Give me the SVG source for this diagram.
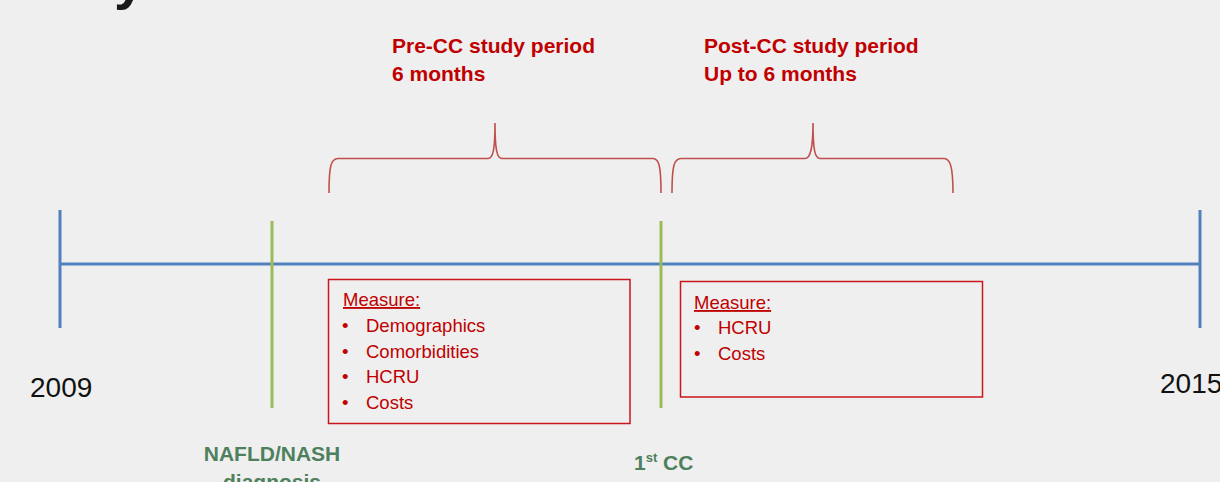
<svg xmlns="http://www.w3.org/2000/svg" width="1220" height="482" viewBox="0 0 1220 482">
<style>
.bg{fill:#EFEFEF}
.axis{stroke:#4F81BD;stroke-width:3;fill:none}
.mark{stroke:#9BBB59;stroke-width:3;fill:none}
.brace{stroke:#C0504D;stroke-width:1.6;fill:none}
.box{stroke:#C8161D;stroke-width:1.5;fill:none}
.head{font-family:"Liberation Sans",Arial,sans-serif;font-weight:bold;font-size:21px;fill:#C00000}
.item{font-family:"Liberation Sans",Arial,sans-serif;font-size:18.5px;fill:#C00000}
.year{font-family:"Liberation Sans",Arial,sans-serif;font-size:28px;fill:#111}
.lbl{font-family:"Liberation Sans",Arial,sans-serif;font-weight:bold;font-size:21px;fill:#4E805D}
</style>
<rect class="bg" x="0" y="0" width="1220" height="482"/>
<text x="114" y="-2" style="font-family:'Liberation Sans',Arial,sans-serif;font-weight:bold;font-size:56px;fill:#1a1a1a">y</text>

<g id="connectors">
<line class="axis" x1="60" y1="264" x2="1200" y2="264"/>
<line class="axis" x1="60" y1="210" x2="60" y2="328"/>
<line class="axis" x1="1200" y1="210" x2="1200" y2="328"/>
<line class="mark" x1="272" y1="221" x2="272" y2="408"/>
<line class="mark" x1="661" y1="221" x2="661" y2="408"/>
<path class="brace" d="M329,193 C329,166 331,158.5 338,158.5 L488,158.5 C493,158.5 495,150 495,123 C495,150 497,158.5 502,158.5 L653,158.5 C659,158.5 661,166 661,193"/>
<path class="brace" d="M672,193 C672,166 674,158.5 681,158.5 L805,158.5 C810,158.5 813,150 813,123 C813,150 815,158.5 820,158.5 L944,158.5 C950,158.5 953,166 953,193"/>
</g>

<g id="pre-period">
<text class="head" x="392" y="53">Pre-CC study period</text>
<text class="head" x="392" y="81">6 months</text>
</g>
<g id="post-period">
<text class="head" x="704" y="53">Post-CC study period</text>
<text class="head" x="704" y="81">Up to 6 months</text>
</g>

<g id="pre-measure">
<rect class="box" x="328.5" y="279.5" width="301.5" height="144"/>
<text class="item" x="343" y="306" text-decoration="underline">Measure:</text>
<text class="item" x="342" y="332">•</text><text class="item" x="366" y="332">Demographics</text>
<text class="item" x="342" y="358">•</text><text class="item" x="366" y="358">Comorbidities</text>
<text class="item" x="342" y="383">•</text><text class="item" x="366" y="383">HCRU</text>
<text class="item" x="342" y="409">•</text><text class="item" x="366" y="409">Costs</text>
</g>

<g id="post-measure">
<rect class="box" x="680.5" y="281.5" width="302" height="115.5"/>
<text class="item" x="694" y="309" text-decoration="underline">Measure:</text>
<text class="item" x="694" y="334">•</text><text class="item" x="718" y="334">HCRU</text>
<text class="item" x="694" y="360">•</text><text class="item" x="718" y="360">Costs</text>
</g>

<g id="year-2009"><text class="year" x="30" y="397">2009</text></g>
<g id="year-2015"><text class="year" x="1160" y="393">2015</text></g>

<g id="diagnosis">
<text class="lbl" x="272" y="461" text-anchor="middle">NAFLD/NASH</text>
<text class="lbl" x="272" y="489" text-anchor="middle">diagnosis</text>
</g>
<g id="first-cc">
<text class="lbl" x="634" y="470">1<tspan font-size="13" dy="-8">st</tspan><tspan dy="8"> CC</tspan></text>
</g>
</svg>
